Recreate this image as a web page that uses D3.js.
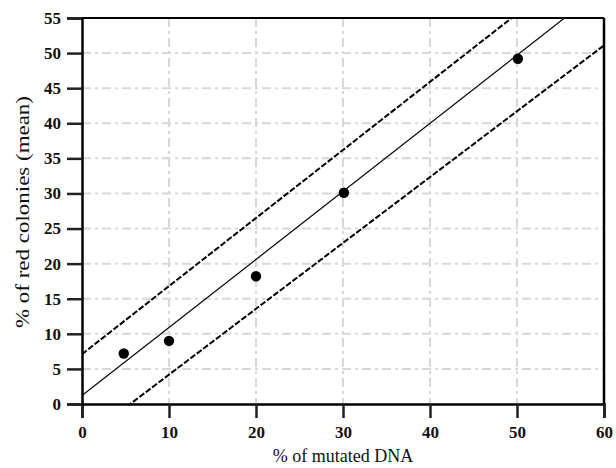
<!DOCTYPE html>
<html><head><meta charset="utf-8">
<script src="https://cdn.jsdelivr.net/npm/d3@7"></script>
<style>body{margin:0;background:#fff}svg{display:block}</style>
</head><body>
<script>
const xTicks = [0,10,20,30,40,50,60];
const yTicks = [0,5,10,15,20,25,30,35,40,45,50,55];
const pointX = [4.8,10,20,30.1,50.1];
const pointY = [7.2,9.0,18.2,30.1,49.2];
const lineNames = ["fit","upper","lower"];
const lineX = [[0,60],[0,60],[0,60]];
const lineY = [[1.2,59.4],[7.1,65.3],[-5.2,51.1]];

const W=616,H=468;
const svg=d3.select("body").append("svg").attr("width",W).attr("height",H);
const x=d3.scaleLinear().domain([0,60]).range([82,604]);
const y=d3.scaleLinear().domain([0,55]).range([404,18]);
const font="'Liberation Serif','DejaVu Serif',serif";

svg.append("defs").append("clipPath").attr("id","clip").append("rect")
  .attr("x",82).attr("y",18).attr("width",522).attr("height",386);

const g=svg.append("g");
g.selectAll(".vg").data(xTicks.filter(d=>d>0&&d<60)).enter().append("line")
  .attr("x1",d=>x(d)).attr("x2",d=>x(d)).attr("y1",18).attr("y2",404)
  .attr("stroke","#d8d8d8").attr("stroke-width",2).attr("stroke-dasharray","9,4,3,4");
g.selectAll(".hg").data(yTicks.filter(d=>d>0&&d<55)).enter().append("line")
  .attr("y1",d=>y(d)).attr("y2",d=>y(d)).attr("x1",82).attr("x2",604)
  .attr("stroke","#d8d8d8").attr("stroke-width",2).attr("stroke-dasharray","9,4,3,4");

const lg=svg.append("g").attr("clip-path","url(#clip)");
lineNames.forEach((n,i)=>{
  lg.append("line").attr("x1",x(lineX[i][0])).attr("y1",y(lineY[i][0]))
    .attr("x2",x(lineX[i][1])).attr("y2",y(lineY[i][1]))
    .attr("stroke","#000")
    .attr("stroke-width",n==="fit"?1.2:2)
    .attr("stroke-dasharray",n==="fit"?null:"6,2");
});

svg.append("g").selectAll("circle").data(pointX).enter().append("circle")
  .attr("cx",d=>x(d)).attr("cy",(d,i)=>y(pointY[i])).attr("r",5.2).attr("fill","#000");

const xa=svg.append("g").attr("transform","translate(0,404)")
  .call(d3.axisBottom(x).tickValues(xTicks).tickSize(14).tickPadding(8).tickFormat(d3.format("d")));
const ya=svg.append("g").attr("transform","translate(82,0)")
  .call(d3.axisLeft(y).tickValues(yTicks).tickSize(15).tickPadding(6).tickFormat(d3.format("d")));
[xa,ya].forEach(a=>{
  a.select(".domain").attr("stroke","#000").attr("stroke-width",2.5);
  a.selectAll(".tick line").attr("stroke","#222").attr("stroke-width",2.5);
  a.selectAll("text").attr("font-family",font).attr("font-size",17).attr("font-weight","bold").attr("fill","#111");
});
svg.append("line").attr("x1",82).attr("x2",604).attr("y1",18).attr("y2",18).attr("stroke","#000").attr("stroke-width",2);
svg.append("line").attr("x1",604).attr("x2",604).attr("y1",18).attr("y2",404).attr("stroke","#000").attr("stroke-width",2.5);

svg.append("text").attr("x",343).attr("y",462).attr("text-anchor","middle")
  .attr("font-family",font).attr("font-size",18).attr("fill","#111").text("% of mutated DNA");
svg.append("text").attr("transform","translate(29,212) rotate(-90)").attr("text-anchor","middle")
  .attr("font-family",font).attr("font-size",19).attr("fill","#111")
  .attr("textLength",232).attr("lengthAdjust","spacingAndGlyphs").text("% of red colonies (mean)");
</script>
</body></html>
